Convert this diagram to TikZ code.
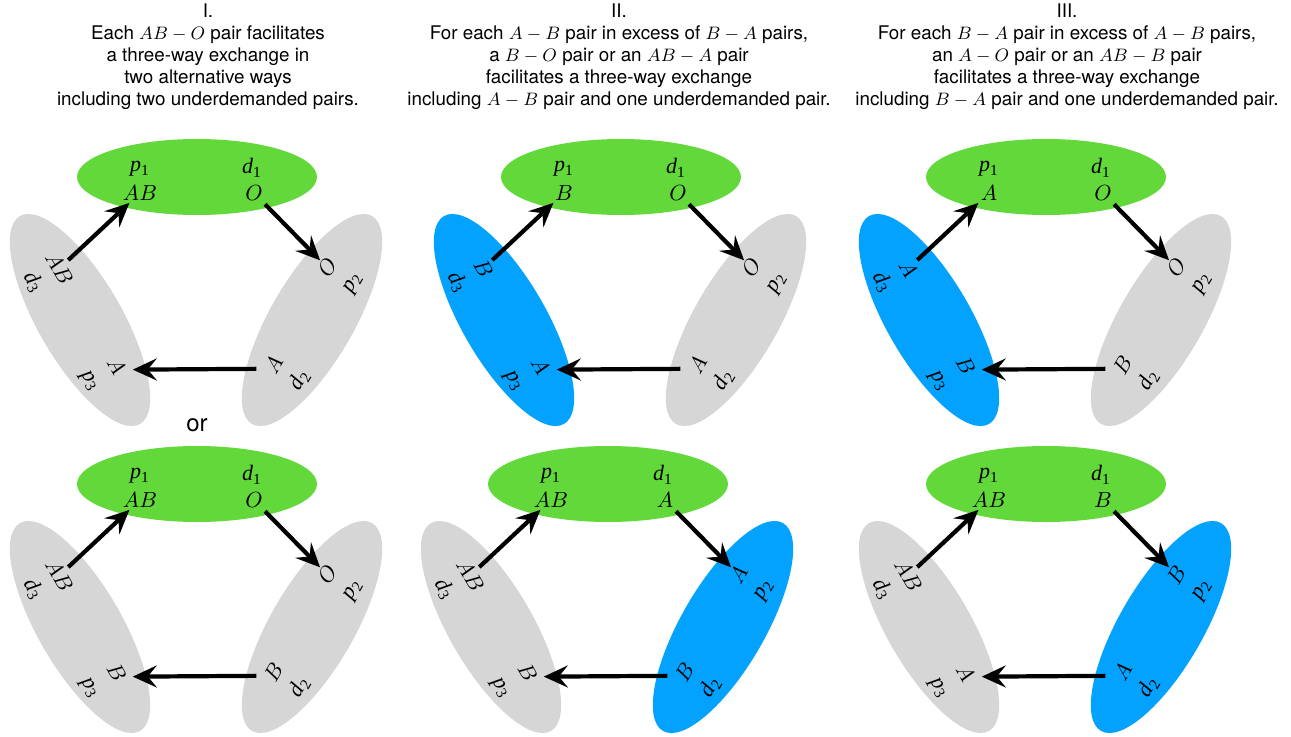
\documentclass[tikz,border=0pt]{standalone}
\usepackage{fontspec}
\setmainfont{TeX Gyre Heros}
\newfontfamily\pairfont{Liberation Serif}
\usetikzlibrary{arrows.meta}

\definecolor{donorgreen}{RGB}{98,216,58}
\definecolor{pairblue}{RGB}{4,162,255}
\definecolor{pairgray}{RGB}{214,214,214}

\tikzset{
  lbl/.style={font=\pairfont\itshape\fontsize{11}{13}\selectfont, inner sep=1pt, transform shape},
  gift/.style={line width=2.1pt, -{Stealth[length=12pt,width=11pt,inset=4.5pt]}},
  heading/.style={align=center, font=\fontsize{9.4}{11}\selectfont, anchor=north, inner sep=0pt},
}

\newcommand{\pid}[2]{#1\textsubscript{\upshape #2}}

% one three-way exchange: top pair, right pair, left pair
% #1 prefix, #2 centre of top pair, #3 #4 #5 blood types, #6 #7 fill of left/right pair
\newcommand{\threeway}[7]{%
  \begin{scope}[shift={(#2)}]
    \fill[donorgreen] (0,0) ellipse (120 and 38);
    \node[lbl] (#1p1) at (-57,8) {\pid{p}{1}};
    \node[lbl] (#1d1) at (55,9) {\pid{d}{1}};
    \node[lbl] (#1tp) at (-57,-16) {#3};
    \node[lbl] (#1td) at (57,-16) {#4};
  \end{scope}
  \begin{scope}[shift={(#2)}, shift={(115,-143)}, rotate=60]
    \fill[#7] (0,0) ellipse (120 and 42);
    \node[lbl] (#1ru) at (53,13) {#4};
    \node[lbl] (#1p2) at (53,-18) {\pid{p}{2}};
    \node[lbl] (#1rl) at (-58,11) {#5};
    \node[lbl] (#1d2) at (-58,-19) {\pid{d}{2}};
  \end{scope}
  \begin{scope}[shift={(#2)}, shift={(-117,-143)}, rotate=-60]
    \fill[#6] (0,0) ellipse (120 and 42);
    \node[lbl] (#1lu) at (-55,8) {#3};
    \node[lbl] (#1d3) at (-56,-21) {\pid{d}{3}};
    \node[lbl] (#1ll) at (58,9) {#5};
    \node[lbl] (#1p3) at (58,-23) {\pid{p}{3}};
  \end{scope}
  \draw[gift, shorten <=1pt] (#1lu) -- (#1tp);
  \draw[gift, shorten <=1pt] (#1td) -- (#1ru);
  \draw[gift, shorten <=8.5pt, shorten >=8pt]
    ([yshift=-2pt]#1rl.center) -- ([yshift=-2pt]#1ll.center);
}

\begin{document}
\begin{tikzpicture}[x=0.5pt, y=0.5pt]
  \useasboundingbox (0,0) rectangle (1291,736);

  % headings
  \node[heading] (headI) at (208,733) {I.\\
    Each $AB-O$ pair facilitates\\
    a three-way exchange in\\
    two alternative ways\\
    including two underdemanded pairs.};
  \node[heading] (headII) at (619,733) {II.\\
    For each $A-B$ pair in excess of $B-A$ pairs,\\
    a $B-O$ pair or an $AB-A$ pair\\
    facilitates a three-way exchange\\
    including $A-B$ pair and one underdemanded pair.};
  \node[heading] (headIII) at (1067,733) {III.\\
    For each $B-A$ pair in excess of $A-B$ pairs,\\
    an $A-O$ pair or an $AB-B$ pair\\
    facilitates a three-way exchange\\
    including $B-A$ pair and one underdemanded pair.};

  % upper row
  \threeway{a}{197,559}{$AB$}{$O$}{$A$}{pairgray}{pairgray}
  \threeway{b}{621,559}{$B$}{$O$}{$A$}{pairblue}{pairgray}
  \threeway{c}{1046,559}{$A$}{$O$}{$B$}{pairblue}{pairgray}

  \node[font=\fontsize{12}{14}\selectfont] (orI) at (197,311) {or};

  % lower row
  \threeway{d}{197,252}{$AB$}{$O$}{$B$}{pairgray}{pairgray}
  \threeway{e}{608,252}{$AB$}{$A$}{$B$}{pairgray}{pairblue}
  \threeway{f}{1046,252}{$AB$}{$B$}{$A$}{pairgray}{pairblue}
\end{tikzpicture}
\end{document}
